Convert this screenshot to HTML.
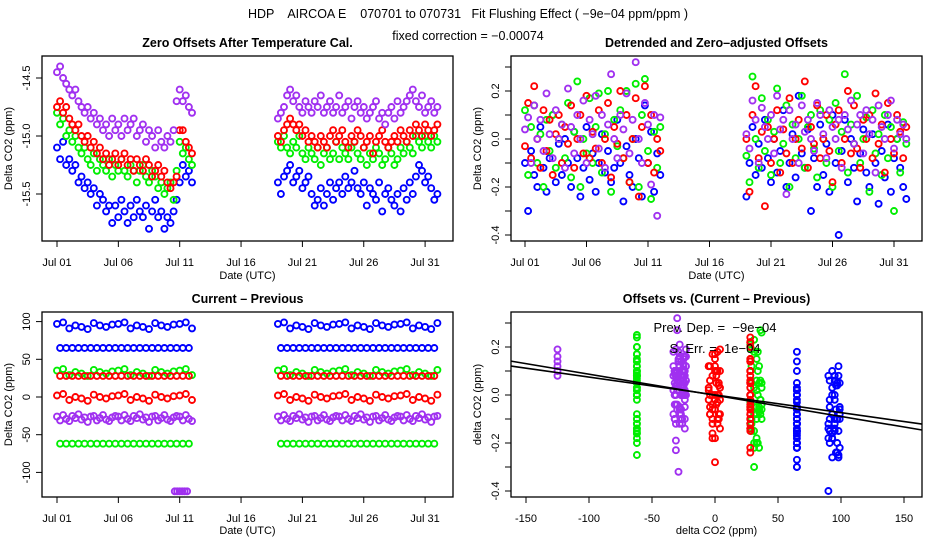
<!DOCTYPE html>
<html><head><meta charset="utf-8"><style>
html,body{margin:0;padding:0;background:#fff;}
svg{display:block;font-family:"Liberation Sans",sans-serif;}
text{white-space:pre;}
</style></head><body>
<svg id="chart" width="936" height="540" viewBox="0 0 936 540">
<text x="468" y="18" text-anchor="middle" font-size="12.5">HDP    AIRCOA E    070701 to 070731   Fit Flushing Effect ( −9e−04 ppm/ppm )</text>
<text x="468" y="40" text-anchor="middle" font-size="12.5">fixed correction = −0.00074</text>
<g id="layer"></g>
</svg>
<script>
// ---- data (ppm), sampled every 0.25 day starting segA=Jul 1, segB=Jul 19 ----
const segStarts = [1, 19];
const blueA = [-15.1,-15.2,-15.05,-15.25,-15.2,-15.3,-15.25,-15.4,-15.35,-15.45,-15.4,-15.5,-15.45,-15.6,-15.5,-15.55,-15.65,-15.6,-15.75,-15.6,-15.7,-15.55,-15.65,-15.75,-15.6,-15.7,-15.55,-15.65,-15.7,-15.6,-15.8,-15.65,-15.55,-15.7,-15.65,-15.8,-15.7,-15.75,-15.65,-15.55,-15.4,-15.25,-15.35,-15.3,-15.4];
const blueB = [-15.4,-15.5,-15.35,-15.3,-15.25,-15.4,-15.35,-15.3,-15.45,-15.4,-15.35,-15.5,-15.6,-15.55,-15.45,-15.6,-15.5,-15.4,-15.55,-15.45,-15.4,-15.5,-15.35,-15.45,-15.4,-15.3,-15.45,-15.5,-15.4,-15.6,-15.45,-15.5,-15.55,-15.4,-15.65,-15.5,-15.45,-15.55,-15.6,-15.5,-15.65,-15.45,-15.55,-15.4,-15.5,-15.35,-15.25,-15.3,-15.4,-15.35,-15.45,-15.55,-15.5];
const greenA = [-14.8,-14.9,-14.85,-15.0,-14.95,-15.05,-15.0,-15.1,-15.15,-15.1,-15.2,-15.25,-15.15,-15.3,-15.2,-15.25,-15.3,-15.2,-15.35,-15.25,-15.3,-15.2,-15.3,-15.35,-15.25,-15.3,-15.4,-15.3,-15.25,-15.35,-15.4,-15.3,-15.35,-15.45,-15.4,-15.5,-15.45,-15.4,-15.55,-15.3,-15.05,-15.15,-15.1,-15.2,-15.25];
const greenB = [-15.05,-15.1,-15.0,-15.1,-15.15,-15.05,-15.1,-15.0,-15.15,-15.2,-15.1,-15.15,-15.2,-15.1,-15.25,-15.15,-15.1,-15.2,-15.15,-15.05,-15.2,-15.1,-15.15,-15.2,-15.1,-15.05,-15.15,-15.2,-15.1,-15.25,-15.15,-15.2,-15.1,-15.15,-15.25,-15.2,-15.1,-15.15,-15.25,-15.2,-15.1,-15.15,-15.05,-15.1,-15.15,-15.0,-15.05,-15.1,-15.0,-15.05,-15.1,-15.0,-15.05];
const redA = [-14.75,-14.7,-14.8,-14.75,-14.85,-14.9,-14.95,-14.9,-15.0,-15.05,-15.0,-15.1,-15.05,-15.15,-15.1,-15.2,-15.15,-15.25,-15.2,-15.15,-15.25,-15.2,-15.15,-15.25,-15.2,-15.3,-15.2,-15.25,-15.3,-15.2,-15.25,-15.35,-15.3,-15.25,-15.35,-15.3,-15.4,-15.45,-15.4,-15.35,-14.95,-14.95,-15.05,-15.1,-15.15];
const redB = [-15.0,-15.05,-14.95,-14.9,-14.85,-14.9,-14.95,-14.9,-15.0,-14.95,-15.05,-15.0,-15.05,-15.1,-15.0,-15.05,-15.1,-15.0,-14.95,-15.05,-15.0,-14.95,-15.05,-15.1,-15.0,-15.05,-14.95,-15.0,-15.1,-15.05,-15.0,-15.15,-15.05,-15.0,-14.95,-15.05,-15.1,-15.05,-15.0,-15.05,-14.95,-15.0,-15.05,-14.95,-15.0,-14.9,-14.95,-15.0,-14.9,-14.95,-15.0,-14.95,-14.9];
const purpleA = [-14.45,-14.4,-14.5,-14.55,-14.6,-14.65,-14.6,-14.7,-14.75,-14.8,-14.75,-14.85,-14.8,-14.9,-14.85,-14.95,-14.9,-15.0,-14.85,-14.95,-14.9,-15.0,-14.85,-14.95,-14.9,-14.85,-15.0,-14.95,-14.9,-15.05,-14.95,-15.0,-15.1,-14.95,-15.05,-15.1,-15.0,-15.05,-14.95,-14.7,-14.6,-14.7,-14.65,-14.75,-14.8];
const purpleB = [-14.85,-14.8,-14.75,-14.65,-14.6,-14.7,-14.65,-14.75,-14.8,-14.7,-14.75,-14.8,-14.7,-14.75,-14.65,-14.8,-14.75,-14.7,-14.8,-14.75,-14.65,-14.8,-14.75,-14.7,-14.85,-14.75,-14.7,-14.8,-14.75,-14.85,-14.8,-14.75,-14.7,-14.85,-14.8,-14.9,-14.8,-14.75,-14.85,-14.7,-14.8,-14.75,-14.7,-14.65,-14.6,-14.7,-14.75,-14.65,-14.8,-14.75,-14.7,-14.8,-14.75];
// detrended offsets (ppm)
const blueDetA = [-.1,-.3,-.05,-.15,-.2,.05,-.12,-.22,-.08,.1,-.18,-.02,-.15,.0,-.1,-.2,.03,-.08,-.24,-.12,.05,-.17,-.06,-.22,-.1,.02,-.14,-.05,-.18,-.12,.08,-.1,-.26,-.03,-.15,-.2,.0,-.08,-.24,.14,-.1,.03,-.22,-.06,-.15];
const blueDetB = [-.24,-.1,.05,-.15,-.02,-.12,.08,-.08,-.18,.0,-.14,-.05,.12,-.2,-.1,.02,-.16,.18,-.06,-.12,.04,-.3,-.08,-.2,.06,-.15,-.02,-.22,.1,-.1,-.4,-.05,.08,-.18,.0,-.12,-.26,-.06,.04,-.14,-.2,.02,-.1,-.27,-.05,-.16,.06,-.22,-.08,.0,-.12,-.2,-.25];
const greenDetA = [.12,-.15,.05,.14,-.1,.02,-.2,.08,-.05,.1,-.12,.0,.06,-.08,.15,-.16,.03,.24,-.2,.0,-.06,.17,-.1,.05,.19,-.14,.02,.2,-.22,.08,-.03,.12,-.08,.2,-.18,.0,.23,-.2,.1,.25,-.05,-.25,.03,-.12,.05];
const greenDetB = [-.07,-.18,.26,.0,-.12,.17,-.05,.08,-.15,.03,.21,-.1,-.02,.14,-.2,.06,-.08,.0,.18,-.12,.05,.1,-.04,-.16,.12,.0,-.1,.08,-.2,.15,-.05,.03,.27,-.14,.06,-.02,.18,-.1,.0,.09,-.22,.12,-.06,.02,-.15,.1,-.08,.05,-.3,.0,-.14,.07,-.02];
const redDetA = [-.03,.15,-.08,.22,.0,-.12,.12,-.05,.08,-.15,.02,.1,-.1,.05,-.02,.14,-.12,.0,.1,-.06,.18,-.08,.03,-.04,.12,-.1,.0,.15,-.16,.05,-.02,.2,-.08,.1,-.18,.0,.17,-.24,.05,.22,-.1,.1,-.14,.0,-.05];
const redDetB = [.0,-.22,.1,.22,-.08,.03,-.28,.05,-.1,.0,.12,-.14,.04,-.06,.17,-.1,.0,.08,-.04,.24,-.12,.05,-.02,.14,-.08,.0,.1,-.05,-.18,.06,.12,-.1,.0,.2,-.06,.14,-.04,-.12,.08,.0,.1,-.08,.19,-.02,.06,-.14,.15,.0,-.06,.1,.03,-.08,.05];
const purpleDetA = [.04,.09,-.1,.14,.0,.08,-.05,.19,.02,-.08,.12,.0,.06,-.12,.21,.05,-.06,.1,.0,.16,-.1,.08,.02,.18,-.04,.1,-.12,.06,.27,.0,-.08,.1,.04,.19,-.06,.08,.32,.0,-.1,.15,.06,-.19,.1,-.32,.09];
const purpleDetB = [.02,-.04,.16,.08,-.1,.13,.05,.0,.1,-.06,.18,.04,.08,-.23,.12,.0,.06,-.1,.14,.03,.08,.0,-.05,.15,.1,.02,-.08,.12,.05,.0,.08,-.12,.1,.04,.16,-.02,.06,.1,-.06,.12,.02,.08,-.14,.14,.05,.0,.1,.16,-.04,.08,.02,.06,.0];
// current - previous levels (ppm), alternate samples
const blueLevels = [95, 65];
const greenLevels = [33, -62];
const redLevels = [0, 28];
const purpleLevels = [-28, -28];
const levelWobble = [2,-3,4,-1,-4,3,0,5,-2,1,-5,2,3,-3,0,4,-2,-4,1,3];
const extraT = [10.6,10.8,11.0,11.2,11.4,11.6];
const extraDiff = [-125,-125,-125,-125,-125,-125];
const extraDet = [.19,.16,.12,.1,.08,.14];
const fitSlopes = [-8.8e-4, -7.4e-4];
const fitIntercepts = [-0.002, 0];
const dateTicks = [1,6,11,16,21,26,31];
const dateLabels = ["Jul 01","Jul 06","Jul 11","Jul 16","Jul 21","Jul 26","Jul 31"];
const p1Ticks = [-14.5,-15.0,-15.5];
const p1Labels = ["-14.5","-15.0","-15.5"];
const detTicks = [0.3,0.2,0.1,0,-0.1,-0.2,-0.3,-0.4];
const detLabels = {"0.2":"0.2","0":"0.0","-0.2":"-0.2","-0.4":"-0.4"};
const p3Ticks = [100,50,0,-50,-100];
const p4XTicks = [-150,-100,-50,0,50,100,150];

const NS = "http://www.w3.org/2000/svg";
const layer = document.getElementById('layer');
function mk(tag, attrs, parent){const e=document.createElementNS(NS,tag);for(const k in attrs)e.setAttribute(k,attrs[k]);(parent||layer).appendChild(e);return e;}
function txt(s,x,y,attrs,parent){const e=mk('text',Object.assign({x:x,y:y,'font-size':11,'text-anchor':'middle'},attrs||{}),parent);e.textContent=s;return e;}

const P1={l:42,r:453,t:56,b:241}, P2={l:511,r:922,t:56,b:241}, P3={l:42,r:453,t:312,b:497}, P4={l:511,r:922,t:312,b:497};
const x1=t=>57+(t-1)*12.27, x2=t=>525+(t-1)*12.3;
const y1=v=>136-(v+15.0)*116, y2=v=>139-v*240, y3=v=>397-v*0.754;
const x4=v=>715+v*1.26, y4=v=>395-v*240;

function box(P,name){const r=mk('rect',{x:P.l,y:P.t,width:P.r-P.l,height:P.b-P.t,fill:'none',stroke:'#000','stroke-width':1.3});

}
function xTicks(P,xf,ticks,labels,ly,name){const g=mk('g',{});


ticks.forEach((t,i)=>{mk('line',{x1:xf(t),x2:xf(t),y1:P.b,y2:P.b+6,stroke:'#000'},g);txt(labels[i],xf(t),ly,{},g);});}
function yTicks(P,yf,ticks,labelFn,name){const g=mk('g',{});


ticks.forEach(t=>{const y=yf(t);mk('line',{x1:P.l-6,x2:P.l,y1:y,y2:y,stroke:'#000'},g);const s=labelFn(t);if(s!==null){const lx=P.l-15;txt(s,lx,y,{transform:`rotate(-90 ${lx} ${y})`,'dominant-baseline':'middle'},g);}});}
function title(s,P,y,name){const e=txt(s,(P.l+P.r)/2,y,{'font-size':12.5,'font-weight':'bold'});

}
function ytitle(s,x,P,name){const y=(P.t+P.b)/2;const e=txt(s,x,y,{transform:`rotate(-90 ${x} ${y})`});

}
function xtitle(s,P,y,name){const e=txt(s,(P.l+P.r)/2,y,{});

}
function dot(g,x,y,c){mk('circle',{cx:x.toFixed(1),cy:y.toFixed(1),r:3,fill:'none',stroke:c,'stroke-width':1.9},g);}

const series=[
 {name:'blue',color:'#0000ff',A:blueA,B:blueB,dA:blueDetA,dB:blueDetB,lv:blueLevels},
 {name:'green',color:'#00ee00',A:greenA,B:greenB,dA:greenDetA,dB:greenDetB,lv:greenLevels},
 {name:'red',color:'#ff0000',A:redA,B:redB,dA:redDetA,dB:redDetB,lv:redLevels},
 {name:'purple',color:'#a030f0',A:purpleA,B:purpleB,dA:purpleDetA,dB:purpleDetB,lv:purpleLevels}
];

title('Zero Offsets After Temperature Cal.',P1,47,'panel1-title');
title('Detrended and Zero\u2013adjusted Offsets',P2,47,'panel2-title');
title('Current \u2013 Previous',P3,303,'panel3-title');
title('Offsets vs. (Current \u2013 Previous)',P4,303,'panel4-title');
box(P1,'panel1-frame');box(P2,'panel2-frame');box(P3,'panel3-frame');box(P4,'panel4-frame');
xTicks(P1,x1,dateTicks,dateLabels,266,'panel1-x-axis');
xTicks(P2,x2,dateTicks,dateLabels,266,'panel2-x-axis');
xTicks(P3,x1,dateTicks,dateLabels,522,'panel3-x-axis');
xTicks(P4,x4,p4XTicks,p4XTicks.map(String),522,'panel4-x-axis');
yTicks(P1,y1,p1Ticks,t=>p1Labels[p1Ticks.indexOf(t)],'panel1-y-axis');
yTicks(P2,y2,detTicks,t=>detLabels[String(Math.round(t*10)/10)]||null,'panel2-y-axis');
yTicks(P3,y3,p3Ticks,t=>String(t),'panel3-y-axis');
yTicks(P4,y4,detTicks,t=>detLabels[String(Math.round(t*10)/10)]||null,'panel4-y-axis');
xtitle('Date (UTC)',P1,279,'panel1-x-title');xtitle('Date (UTC)',P2,279,'panel2-x-title');
xtitle('Date (UTC)',P3,534,'panel3-x-title');xtitle('delta CO2 (ppm)',P4,534,'panel4-x-title');
ytitle('Delta CO2 (ppm)',12,P1,'panel1-y-title');ytitle('Delta CO2 (ppm)',481,P2,'panel2-y-title');
ytitle('Delta CO2 (ppm)',12,P3,'panel3-y-title');ytitle('delta CO2 (ppm)',481,P4,'panel4-y-title');

series.forEach(s=>{
  const g1=mk('g',{});
  
  
  const g2=mk('g',{});
  
  
  const g3=mk('g',{});
  
  
  const g4=mk('g',{});
  
  
  [[s.A,s.dA,segStarts[0]],[s.B,s.dB,segStarts[1]]].forEach(([vals,dets,st])=>{
    vals.forEach((v,i)=>{const t=st+i*0.25;dot(g1,x1(t),y1(v),s.color);});
    dets.forEach((v,i)=>{const t=st+i*0.25;dot(g2,x2(t),y2(v),s.color);});
    const n=Math.max(vals.length,dets.length);
    for(let i=0;i<n;i++){
      const t=st+i*0.25, k=i%2;
      const w=(k===0||s.name==='purple')?levelWobble[i%levelWobble.length]:0;
      const d=s.lv[k]+w;
      dot(g3,x1(t),y3(d),s.color);
      if(i<dets.length) dot(g4,x4(d),y4(dets[i]),s.color);
    }
  });
  if(s.name==='purple'){
    extraT.forEach((t,i)=>{dot(g3,x1(t),y3(extraDiff[i]),s.color);dot(g4,x4(extraDiff[i]),y4(extraDet[i]),s.color);});
  }
});

fitSlopes.forEach((m,i)=>{
  const b=fitIntercepts[i];
  const ln=mk('line',{x1:P4.l,y1:y4(b+m*(-162.7)),x2:P4.r,y2:y4(b+m*163.5),stroke:'#000','stroke-width':1.6});
  
  
});
const a1=txt('Prev. Dep. =  \u22129e\u221204',715,332,{'font-size':13});


const a2=txt('S. Err. =  1e\u221204',715,353,{'font-size':13});


</script>
</body></html>
